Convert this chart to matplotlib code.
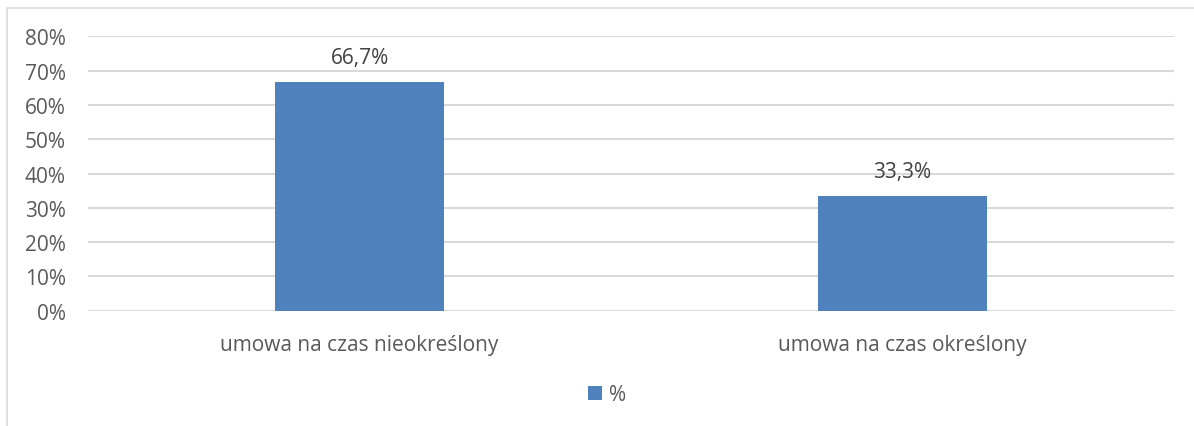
import matplotlib.pyplot as plt
from matplotlib.patches import Rectangle

# Data
categories = ["umowa na czas nieokreślony", "umowa na czas określony"]
values = [66.7, 33.3]
series_name = "%"
yticks = [0, 10, 20, 30, 40, 50, 60, 70, 80]

bar_color = "#4f81bd"
grid_color = "#d9d9d9"
text_color = "#595959"
fs = 15

plt.rcParams["font.family"] = ["Open Sans", "DejaVu Sans"]

fig = plt.figure(figsize=(11.94, 4.27), dpi=100)
ax = fig.add_axes([88 / 1194, 1 - 311.7 / 427, 1086 / 1194, 274.4 / 427])

# outer chart frame (cut off on right and bottom like the reference)
fig.patches.append(Rectangle((7 / 1194, -0.1), 1.2, 1.1 - 8.5 / 427,
                             transform=fig.transFigure, fill=False,
                             edgecolor=grid_color, linewidth=1.2))

x = range(len(categories))
bars = ax.bar(x, values, width=0.313, color=bar_color, label=series_name, zorder=3)

for xi, v in zip(x, values):
    ax.text(xi, v + 4.2, "{:.1f}%".format(v).replace(".", ","),
            ha="center", va="bottom", fontsize=fs, color="#404040")

ax.set_xlim(-0.5, 1.5)
ax.set_ylim(0, 80)
ax.set_yticks(yticks)
ax.set_yticklabels(["{}%".format(t) for t in yticks], fontsize=fs, color=text_color)
ax.set_xticks(list(x))
ax.set_xticklabels(categories, fontsize=fs, color=text_color)
ax.tick_params(axis="both", length=0)
ax.tick_params(axis="y", pad=16)
ax.tick_params(axis="x", pad=17)

ax.grid(axis="y", color=grid_color, linewidth=1.5, zorder=0)
for s in ax.spines.values():
    s.set_visible(False)

leg = fig.legend(loc="center", bbox_to_anchor=(607 / 1194, 1 - 396 / 427),
                 frameon=False, fontsize=fs, handlelength=0.67, handleheight=0.67,
                 handletextpad=0.3)
for t in leg.get_texts():
    t.set_color(text_color)

fig.savefig("out.png", dpi=100)
